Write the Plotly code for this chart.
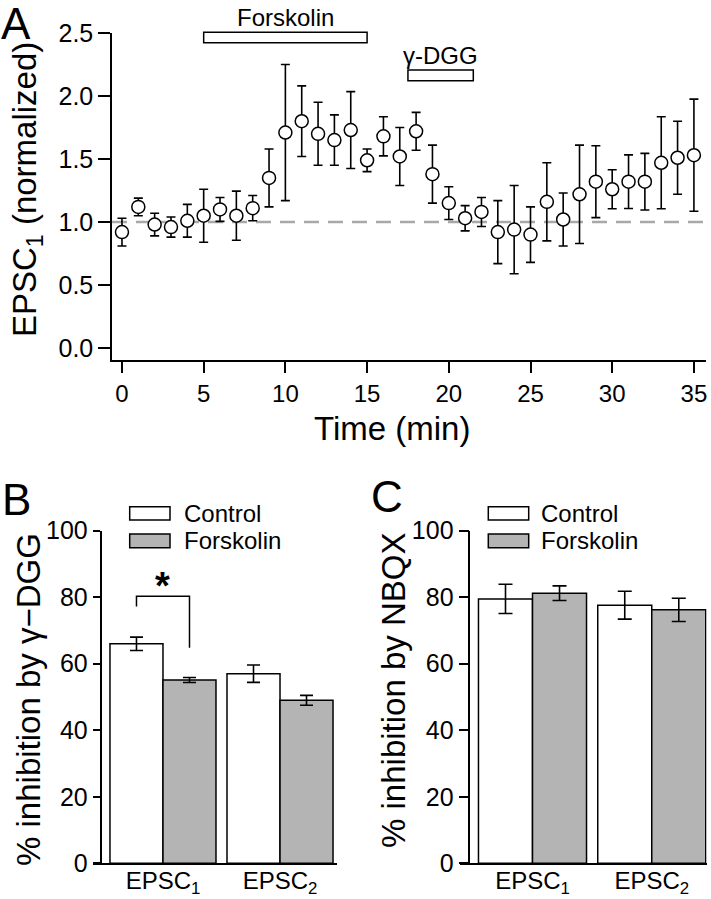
import plotly.graph_objects as go

# ---------------- Data ----------------
# Panel A: time course of normalized EPSC1
time_min = list(range(36))
epsc1_mean = [0.92, 1.12, 0.98, 0.96, 1.01, 1.05, 1.10, 1.05, 1.11, 1.35,
              1.71, 1.80, 1.70, 1.65, 1.73, 1.49, 1.68, 1.52, 1.72, 1.38,
              1.15, 1.03, 1.08, 0.92, 0.94, 0.90, 1.16, 1.02, 1.22, 1.32,
              1.26, 1.32, 1.32, 1.47, 1.51, 1.53]
epsc1_sem = [0.11, 0.07, 0.09, 0.08, 0.13, 0.21, 0.095, 0.195, 0.10, 0.23,
             0.54, 0.28, 0.25, 0.20, 0.305, 0.09, 0.155, 0.23, 0.15, 0.23,
             0.13, 0.10, 0.115, 0.25, 0.35, 0.22, 0.31, 0.21, 0.39, 0.285,
             0.155, 0.213, 0.225, 0.365, 0.29, 0.445]
baseline = 1.0
drug_names = ["Forskolin", "γ-DGG"]
drug_start = [5.0, 17.5]
drug_end = [15.0, 21.5]

# Panels B and C
groups = ["EPSC<sub>1</sub>", "EPSC<sub>2</sub>"]
group_pos = [0, 1]
series_names = ["Control", "Forskolin"]

dgg_control = [66.0, 57.0]
dgg_control_err = [2.0, 2.6]
dgg_forsk = [55.1, 49.0]
dgg_forsk_err = [0.75, 1.5]

nbqx_control = [79.5, 77.6]
nbqx_control_err = [4.4, 4.2]
nbqx_forsk = [81.2, 76.2]
nbqx_forsk_err = [2.2, 3.5]

# ---------------- Styling ----------------
W, H = 711, 899
FONT = "Liberation Sans, Arial, sans-serif"
GREY = "#b4b4b4"
LW = 1.5


def PX(x):
    return x / W


def PY(y):
    return 1 - y / H


fig = go.Figure()

# Panel A
fig.add_trace(go.Scatter(
    x=time_min, y=epsc1_mean, mode="markers",
    marker=dict(symbol="circle", size=13, color="white",
                line=dict(color="black", width=1.5)),
    error_y=dict(type="data", array=epsc1_sem, visible=True,
                 color="black", thickness=1.6, width=4.5),
    xaxis="x", yaxis="y", showlegend=False, cliponaxis=False))

# Panel B
fills = ["white", GREY]
for name, vals, errs, fc in [(series_names[0], dgg_control, dgg_control_err, fills[0]),
                             (series_names[1], dgg_forsk, dgg_forsk_err, fills[1])]:
    fig.add_trace(go.Bar(
        x=group_pos, y=vals, name=name, offsetgroup=name,
        marker=dict(color=fc, line=dict(color="black", width=LW)),
        error_y=dict(type="data", array=errs, visible=True,
                     color="black", thickness=1.6, width=6.5),
        xaxis="x2", yaxis="y2", showlegend=False))

# Panel C
for name, vals, errs, fc in [(series_names[0], nbqx_control, nbqx_control_err, fills[0]),
                             (series_names[1], nbqx_forsk, nbqx_forsk_err, fills[1])]:
    fig.add_trace(go.Bar(
        x=group_pos, y=vals, name=name, offsetgroup=name,
        marker=dict(color=fc, line=dict(color="black", width=LW)),
        error_y=dict(type="data", array=errs, visible=True,
                     color="black", thickness=1.6, width=7),
        xaxis="x3", yaxis="y3", showlegend=False))

axis_common = dict(showgrid=False, zeroline=False, showline=True,
                   linecolor="black", linewidth=LW, ticks="outside",
                   tickcolor="black", tickwidth=LW, automargin=False,
                   tickfont=dict(family=FONT, size=25, color="black"))

ydom_bc = [PY(863.3), PY(530.7)]

fig.update_layout(
    width=W, height=H, autosize=False,
    margin=dict(l=0, r=0, t=0, b=0, pad=0, autoexpand=False),
    paper_bgcolor="white", plot_bgcolor="white",
    font=dict(family=FONT, color="black"),
    barmode="group", bargap=0.094, bargroupgap=0,
    xaxis=dict(axis_common, domain=[PX(112), PX(706)], anchor="y",
               range=[-0.61, 35.74], tickvals=list(range(0, 36, 5)),
               ticklen=11, tickfont=dict(family=FONT, size=24, color="black")),
    yaxis=dict(axis_common, domain=[PY(360), PY(33)], anchor="x",
               range=[-0.095, 2.5], tickvals=[0, 0.5, 1.0, 1.5, 2.0, 2.5],
               tickformat=".1f", ticklen=12),
    xaxis2=dict(axis_common, domain=[PX(93), PX(337)], anchor="y2",
                range=[-0.598, 1.487], tickvals=group_pos, ticktext=groups,
                ticks="", ticklabelstandoff=-5,
                tickfont=dict(family=FONT, size=24, color="black")),
    yaxis2=dict(axis_common, domain=ydom_bc, anchor="free", position=PX(100.5),
                range=[0, 100], tickvals=[0, 20, 40, 60, 80, 100], ticklen=7),
    xaxis3=dict(axis_common, domain=[PX(460), PX(706.5)], anchor="y3",
                range=[-0.608, 1.459], tickvals=group_pos, ticktext=groups,
                ticks="", ticklabelstandoff=-5,
                tickfont=dict(family=FONT, size=24, color="black")),
    yaxis3=dict(axis_common, domain=ydom_bc, anchor="free", position=PX(469.3),
                range=[0, 100], tickvals=[0, 20, 40, 60, 80, 100], ticklen=10),
)

shapes = []
annotations = []

# Baseline dashed line (panel A)
shapes.append(dict(type="line", xref="x domain", yref="y", x0=0, x1=1,
                   y0=baseline, y1=baseline, layer="below",
                   line=dict(color="#a8a8a8", width=2.5, dash="15px,9px")))

# Drug application bars (panel A)
drug_bar_y = [(PY(42.7), PY(32.3)), (PY(80.7), PY(70))]
drug_text_y = [PY(17), PY(55)]
for nm, s, e, (y0, y1), ty in zip(drug_names, drug_start, drug_end, drug_bar_y, drug_text_y):
    shapes.append(dict(type="rect", xref="x", yref="paper", x0=s, x1=e,
                       y0=y0, y1=y1, fillcolor="white",
                       line=dict(color="black", width=LW)))
    annotations.append(dict(text=nm, xref="x", yref="paper", x=(s + e) / 2, y=ty,
                            showarrow=False, xanchor="center", yanchor="middle",
                            font=dict(family=FONT, size=24, color="black")))

# Significance bracket (panel B)
bw = (1 - 0.094) / 2
xc_ctrl = group_pos[0] - bw / 2
xc_fsk = group_pos[0] + bw / 2
br_top = 80.3
shapes.append(dict(type="path", xref="x2", yref="y2",
                   path=f"M {xc_ctrl} 77.2 L {xc_ctrl} {br_top} L {xc_fsk} {br_top} L {xc_fsk} 64.8",
                   line=dict(color="black", width=LW)))
annotations.append(dict(text="<b>*</b>", xref="x2", yref="y2", x=group_pos[0], y=83.5,
                        showarrow=False, xanchor="center", yanchor="middle",
                        font=dict(family=FONT, size=38, color="black")))

# Legends (panels B and C)
for bx0, bx1, tx in [(129.7, 170, 181.7), (488.3, 528.7, 539.3)]:
    for (yy0, yy1), fc, nm in zip([(506.7, 520), (534, 547.7)], fills, series_names):
        shapes.append(dict(type="rect", xref="paper", yref="paper",
                           x0=PX(bx0), x1=PX(bx1), y0=PY(yy1), y1=PY(yy0),
                           fillcolor=fc, line=dict(color="black", width=LW)))
        annotations.append(dict(text=nm, xref="paper", yref="paper",
                                x=PX(tx), y=PY((yy0 + yy1) / 2),
                                showarrow=False, xanchor="left", yanchor="middle",
                                font=dict(family=FONT, size=24, color="black")))

# Axis titles
annotations.append(dict(text="EPSC<sub>1</sub> (normalized)", xref="paper", yref="paper",
                        x=PX(27), y=PY(190), textangle=-90, showarrow=False,
                        xanchor="center", yanchor="middle",
                        font=dict(family=FONT, size=33, color="black")))
annotations.append(dict(text="Time (min)", xref="paper", yref="paper",
                        x=PX(392), y=PY(428), showarrow=False,
                        xanchor="center", yanchor="middle",
                        font=dict(family=FONT, size=33, color="black")))
annotations.append(dict(text="% inhibition by γ\u2212DGG", xref="paper", yref="paper",
                        x=PX(28), y=PY(700), textangle=-90, showarrow=False,
                        xanchor="center", yanchor="middle",
                        font=dict(family=FONT, size=33, color="black")))
annotations.append(dict(text="% inhibition by NBQX", xref="paper", yref="paper",
                        x=PX(393), y=PY(691), textangle=-90, showarrow=False,
                        xanchor="center", yanchor="middle",
                        font=dict(family=FONT, size=33, color="black")))

# Panel letters
for letter, lx, ly in [("A", 16, 23), ("B", 16, 499), ("C", 387, 496)]:
    annotations.append(dict(text=letter, xref="paper", yref="paper",
                            x=PX(lx), y=PY(ly), showarrow=False,
                            xanchor="center", yanchor="middle",
                            font=dict(family=FONT, size=44, color="black")))

fig.update_layout(shapes=shapes, annotations=annotations)

fig.write_html(
    "out.html",
    config={"displayModeBar": False},
    post_script="document.documentElement.style.margin='0';"
                "document.body.style.margin='0';"
                "document.body.style.padding='0';"
                "document.body.style.overflow='hidden';",
)
